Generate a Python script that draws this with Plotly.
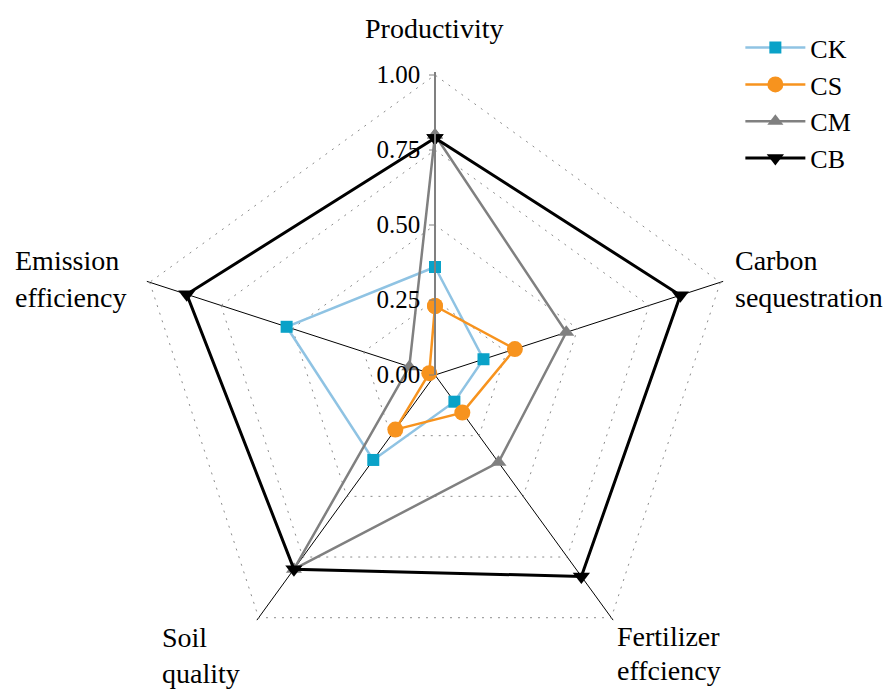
import plotly.graph_objects as go

# Evaluation dimensions, clockwise from the top
categories = ["Productivity", "Carbon sequestration", "Fertilizer effciency",
              "Soil quality", "Emission efficiency"]
label_lines = [["Productivity"], ["Carbon", "sequestration"], ["Fertilizer", "effciency"],
               ["Soil", "quality"], ["Emission", "efficiency"]]

# Normalised scores per treatment
ck = [0.36, 0.17, 0.11, 0.35, 0.52]
cs = [0.23, 0.28, 0.155, 0.225, 0.02]
cm = [0.80, 0.46, 0.36, 0.80, 0.09]
cb = [0.79, 0.86, 0.83, 0.80, 0.87]

radial_ticks = [0, 0.25, 0.5, 0.75, 1.0]
radial_ticktext = ["0.00", "0.25", "0.50", "0.75", "1.00"]

FONT = "Times New Roman, Liberation Serif, serif"

series = [
    ("CK", ck, dict(color="#8fc3e3", width=2.5), dict(symbol="square", size=12, color="#0aa2c8")),
    ("CS", cs, dict(color="#f7931e", width=2.5), dict(symbol="circle", size=16, color="#f7931e")),
    ("CM", cm, dict(color="#808080", width=2.5), dict(symbol="triangle-up", size=14, color="#808080")),
    ("CB", cb, dict(color="#000000", width=3), dict(symbol="triangle-down", size=15, color="#000000")),
]

fig = go.Figure()
for name, vals, line, marker in series:
    fig.add_trace(go.Scatterpolar(
        r=vals + vals[:1],
        theta=categories + categories[:1],
        mode="lines+markers",
        name=name,
        line=line,
        marker=marker,
    ))

# Polar area: centre (435, 375) px, value 1.00 at 300 px
W, H = 892, 692
RMAX = 1.01
cx, cy, R = 435, 375, 300 * RMAX
fig.update_layout(
    width=W, height=H,
    margin=dict(l=0, r=0, t=0, b=0),
    paper_bgcolor="white",
    plot_bgcolor="white",
    font=dict(family=FONT, size=22, color="black"),
    polar=dict(
        domain=dict(x=[(cx - R) / W, (cx + R) / W],
                    y=[(H - cy - R) / H, (H - cy + R) / H]),
        gridshape="linear",
        bgcolor="white",
        radialaxis=dict(
            range=[0, RMAX],
            angle=90,
            tickangle=90,
            side="counterclockwise",
            tickvals=radial_ticks,
            ticktext=radial_ticktext,
            tickfont=dict(family=FONT, size=25, color="black"),
            ticks="outside", ticklen=5, tickcolor="#808080",
            showline=True, linecolor="#808080", linewidth=2,
            showgrid=True, gridcolor="#8c8c8c", gridwidth=1.3, griddash="2px,6px",
        ),
        angularaxis=dict(
            rotation=90,
            direction="clockwise",
            showticklabels=False,
            ticks="",
            showline=False,
            showgrid=True, gridcolor="black", gridwidth=1,
        ),
    ),
    legend=dict(
        x=0.83, y=0.965, xanchor="left", yanchor="top",
        font=dict(family=FONT, size=26, color="black"),
        bgcolor="rgba(0,0,0,0)",
        tracegroupgap=0,
        itemwidth=60,
    ),
    showlegend=True,
)

# Category labels placed outside the polygon (x, first-line y, anchor, line step)
label_pos = [
    (434, 28, "center", 37),
    (733, 260, "left", 37),
    (615, 636, "left", 34),
    (160, 637, "left", 36),
    (13, 260, "left", 37),
]
for lines, (x, y, anchor, step) in zip(label_lines, label_pos):
    for i, txt in enumerate(lines):
        fig.add_annotation(
            text=txt, x=x / W, y=1 - (y + i * step) / H,
            xref="paper", yref="paper",
            xanchor=anchor, yanchor="middle",
            showarrow=False,
            font=dict(family=FONT, size=28, color="black"),
        )

fig.write_html("out.html")
